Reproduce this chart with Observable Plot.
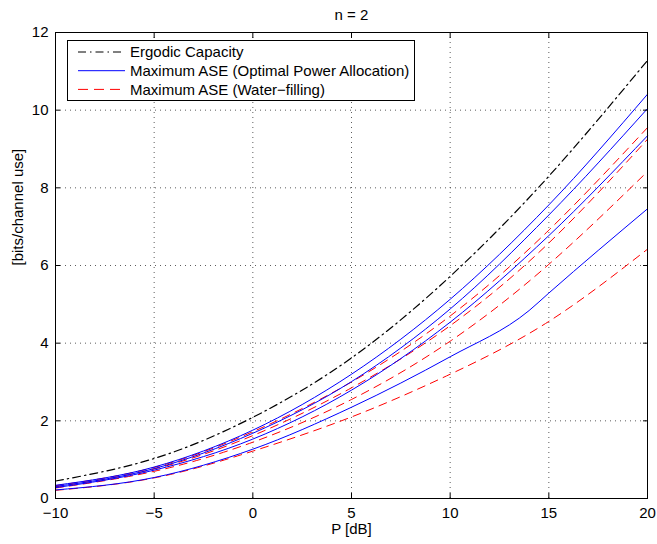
<!DOCTYPE html>
<html><head><meta charset="utf-8">
<script src="https://cdn.jsdelivr.net/npm/d3@7"></script>
<script src="https://cdn.jsdelivr.net/npm/@observablehq/plot@0.6"></script>
<style>
body{margin:0;background:#fff;}
svg{font-family:"Liberation Sans",Arial,Helvetica,sans-serif;}
</style>
</head><body><div id="chart"></div>
<script>
// P [dB] sample points
const pdB = [-10, -5, 0, 5, 10, 15, 20];
const pdBKink = [-10, -5, 0, 5, 10, 14, 15, 20];

// Ergodic capacity (black dash-dot)
const ergodic = [0.45, 1.03, 2.09, 3.62, 5.72, 8.30, 11.28];

// Maximum ASE, optimal power allocation (blue solid)
const optA = [0.34, 0.81, 1.76, 3.20, 5.13, 7.56, 10.41];
const optB = [0.31, 0.77, 1.68, 3.01, 4.88, 7.30, 10.04];
const optC = [0.28, 0.73, 1.53, 2.79, 4.54, 6.77, 9.34];
const optD = [0.22, 0.54, 1.27, 2.35, 3.65, 4.84, 5.29, 7.46]; // on pdBKink

// Maximum ASE, water-filling (red dashed)
const wfA = [0.33, 0.80, 1.72, 3.00, 4.70, 6.91, 9.55];
const wfB = [0.30, 0.76, 1.62, 2.85, 4.45, 6.58, 9.25];
const wfC = [0.27, 0.70, 1.45, 2.55, 4.05, 6.03, 8.42];
const wfD = [0.21, 0.53, 1.22, 2.10, 3.20, 4.56, 6.42];

const xTicks = [-10, -5, 0, 5, 10, 15, 20];
const yTicks = [0, 2, 4, 6, 8, 10, 12];

const titleText = "n = 2";
const xLabel = "P [dB]";
const yLabel = "[bits/channel use]";
const legendLabels = ["Ergodic Capacity", "Maximum ASE (Optimal Power Allocation)", "Maximum ASE (Water\u2212filling)"];

const toRows = (xs, ys, series) => ys.map((y, i) => ({x: xs[i], y, series}));
const ergRows = toRows(pdB, ergodic, "erg");
const optRows = [
  ...toRows(pdB, optA, "A"), ...toRows(pdB, optB, "B"),
  ...toRows(pdB, optC, "C"), ...toRows(pdBKink, optD, "D")
];
const wfRows = [
  ...toRows(pdB, wfA, "A"), ...toRows(pdB, wfB, "B"),
  ...toRows(pdB, wfC, "C"), ...toRows(pdB, wfD, "D")
];

const fmt = d => d < 0 ? "\u2212" + (-d) : String(d);

const chart = Plot.plot({
  width: 657, height: 544,
  marginLeft: 55, marginRight: 10, marginTop: 32, marginBottom: 46,
  style: {fontSize: "15px", fontFamily: "Liberation Sans, Arial, sans-serif", color: "#000", background: "#fff"},
  x: {domain: [-10, 20]},
  y: {domain: [0, 12]},
  marks: [
    Plot.gridX(xTicks, {stroke: "#333", strokeOpacity: 0.8, strokeDasharray: "1,4"}),
    Plot.gridY(yTicks, {stroke: "#333", strokeOpacity: 0.8, strokeDasharray: "1,4"}),
    Plot.line(wfRows, {x: "x", y: "y", z: "series", stroke: "#ff0000", strokeWidth: 1, strokeDasharray: "8,6", curve: "natural"}),
    Plot.line(optRows, {x: "x", y: "y", z: "series", stroke: "#0000ff", strokeWidth: 1, curve: "monotone-x"}),
    Plot.line(ergRows, {x: "x", y: "y", stroke: "#000", strokeWidth: 1.2, strokeDasharray: "8,4,1.5,4", curve: "natural"}),
    Plot.frame({stroke: "#000", strokeWidth: 1}),
    Plot.axisX({ticks: xTicks, tickSize: -5, tickPadding: 14, tickFormat: fmt, label: null, fontSize: 15}),
    Plot.axisX({ticks: xTicks, anchor: "top", tickSize: -5, tickFormat: () => "", label: null}),
    Plot.axisY({ticks: yTicks, tickSize: -5, tickPadding: 12, tickFormat: fmt, label: null, fontSize: 15}),
    Plot.axisY({ticks: yTicks, anchor: "right", tickSize: -5, tickFormat: () => "", label: null}),
    Plot.text([titleText], {frameAnchor: "top", lineAnchor: "middle", dy: -17, fontSize: 15}),
    Plot.text([xLabel], {frameAnchor: "bottom", lineAnchor: "middle", dy: 31, fontSize: 15}),
    Plot.text([yLabel], {frameAnchor: "left", rotate: -90, dx: -37, fontSize: 15})
  ]
});
document.getElementById("chart").appendChild(chart);

// Legend box (MATLAB style, upper left)
const svg = d3.select(chart);
const lg = svg.append("g").attr("font-size", 15).attr("text-anchor", "start");
lg.append("rect").attr("x", 67.5).attr("y", 40.5).attr("width", 347).attr("height", 60)
  .attr("fill", "#fff").attr("stroke", "#000").attr("stroke-width", 1);
const styles = [
  {stroke: "#000", dash: "8,4,1.5,4"},
  {stroke: "#0000ff", dash: null},
  {stroke: "#ff0000", dash: "10,6"}
];
legendLabels.forEach((t, i) => {
  const yy = 52 + i * 18.7;
  lg.append("line").attr("x1", 78).attr("x2", 125).attr("y1", yy).attr("y2", yy)
    .attr("stroke", styles[i].stroke).attr("stroke-width", 1)
    .attr("stroke-dasharray", styles[i].dash);
  lg.append("text").attr("x", 130).attr("y", yy).attr("dy", "0.35em")
    .attr("text-anchor", "start").text(t);
});
</script>
</body></html>
